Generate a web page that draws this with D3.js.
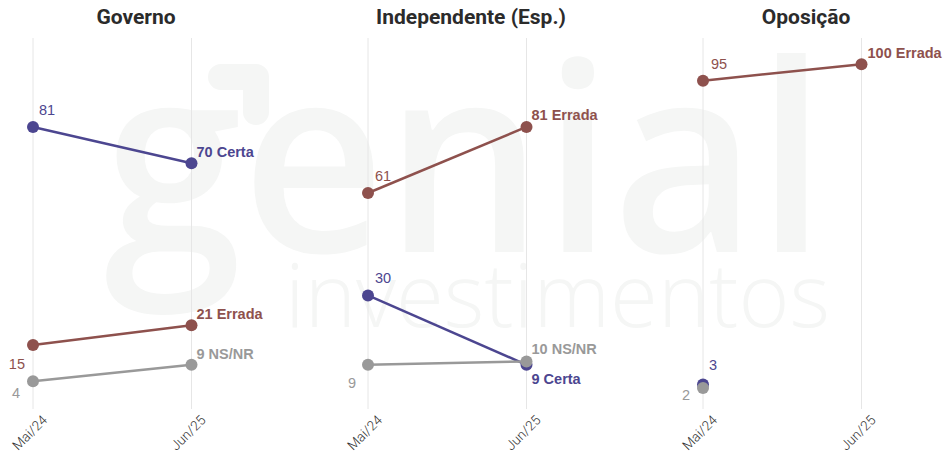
<!DOCTYPE html>
<html><head><meta charset="utf-8">
<script src="https://cdn.jsdelivr.net/npm/d3@7"></script>
<style>body{margin:0;background:#fff}svg{display:block}</style>
</head><body><svg id="c" width="948" height="454"></svg>
<script>
const panels = ["Governo", "Independente (Esp.)", "Oposição"];
const periods = ["Mai/24", "Jun/25"];
const seriesNames = ["Certa", "Errada", "NS/NR"];
// values per panel: [Mai/24, Jun/25] (null = missing)
const certa  = [[81, 70], [30, 9],  [3, null]];
const errada = [[15, 21], [61, 81], [95, 100]];
const nsnr   = [[4, 9],   [9, 10],  [2, null]];

// ---- layout / style config (not data) ----
const colors = ["#4c4690", "#8e514d", "#999999"];
// label offsets [dx, dy, anchor] for first-period labels, per panel per series
const firstOff = [
  [[6, -12, "start"], [-8, 24, "end"], [-13, 17, "end"]],
  [[7, -12, "start"], [7, -12, "start"], [-12, 23, "end"]],
  [[6, -15, "start"], [8, -12, "start"], [-13, 12, "end"]]
];
const lastOff = [
  [[5, -6], [5, -6], [5, -6]],
  [[5, 19], [5, -7], [5, -7]],
  [[5, -6], [6, -6], [5, -6]]
];

const svg = d3.select("#c");
const panelStep = 335, panelW = 272;
const y = d3.scaleLinear().domain([0, 100]).range([394.5, 64.2]);
const x = d3.scalePoint().domain(periods).range([33, 191.5]);

// watermark (logo)
const wmCol = "#f5f6f5";
const wm = svg.append("g").attr("fill", wmCol).style("font-family", "'Open Sans', sans-serif");
wm.append("path").attr("d", "M221 77 L256 77 L256 112").attr("fill", "none")
  .attr("stroke", wmCol).attr("stroke-width", 26).attr("stroke-linejoin", "round").attr("stroke-linecap", "round");
wm.append("text").attr("x", 104).attr("y", 252).attr("font-size", 262).attr("font-weight", 600)
  .attr("textLength", 722).attr("lengthAdjust", "spacingAndGlyphs").text("genial");
wm.append("text").attr("x", 285).attr("y", 327).attr("font-size", 88).attr("font-weight", 300)
  .attr("textLength", 545).attr("lengthAdjust", "spacingAndGlyphs").text("investimentos");

const allSeries = [certa, errada, nsnr];

panels.forEach((pname, pi) => {
  const g = svg.append("g").attr("transform", `translate(${pi * panelStep},0)`);
  g.append("text").attr("x", panelW / 2).attr("y", 24).attr("text-anchor", "middle")
    .attr("font-family", "Roboto, sans-serif").attr("font-weight", 700).attr("font-size", 21)
    .attr("fill", "#2b2b2b").text(pname);
  periods.forEach(p => {
    g.append("line").attr("x1", x(p)).attr("x2", x(p)).attr("y1", 38).attr("y2", 409)
      .attr("stroke", "#e6e6e6").attr("stroke-width", 1);
    g.append("text").attr("transform", `translate(${x(p) + 15},${421}) rotate(-45)`)
      .attr("text-anchor", "end").attr("font-family", "Roboto, sans-serif").attr("font-weight", 300)
      .attr("font-size", 13.5).attr("fill", "#333").text(p);
  });
  [0, 1, 2].forEach(si => {
    const vals = allSeries[si][pi];
    const pts = periods.map((p, i) => ({p, v: vals[i]})).filter(d => d.v != null);
    const col = colors[si];
    if (pts.length > 1) {
      g.append("path").datum(pts)
        .attr("d", d3.line().x(d => x(d.p)).y(d => y(d.v)))
        .attr("fill", "none").attr("stroke", col).attr("stroke-width", 2.5);
    }
    g.selectAll(null).data(pts).enter().append("circle")
      .attr("cx", d => x(d.p)).attr("cy", d => y(d.v)).attr("r", 6).attr("fill", col);
  });
  seriesNames.forEach((sn, si) => {
    const vals = allSeries[si][pi];
    const col = colors[si];
    if (vals[0] != null) {
      const o = firstOff[pi][si];
      g.append("text").attr("font-family", "'Liberation Sans', Arial, sans-serif")
        .attr("font-size", 14.5).attr("fill", col)
        .attr("x", x(periods[0]) + o[0]).attr("y", y(vals[0]) + o[1]).attr("text-anchor", o[2])
        .text(vals[0]);
    }
    if (vals[1] != null) {
      const o = lastOff[pi][si];
      g.append("text").attr("font-family", "'Liberation Sans', Arial, sans-serif")
        .attr("font-size", 14.5).attr("font-weight", 700).attr("fill", col)
        .attr("x", x(periods[1]) + o[0]).attr("y", y(vals[1]) + o[1])
        .text(vals[1] + " " + sn);
    }
  });
});
</script></body></html>
